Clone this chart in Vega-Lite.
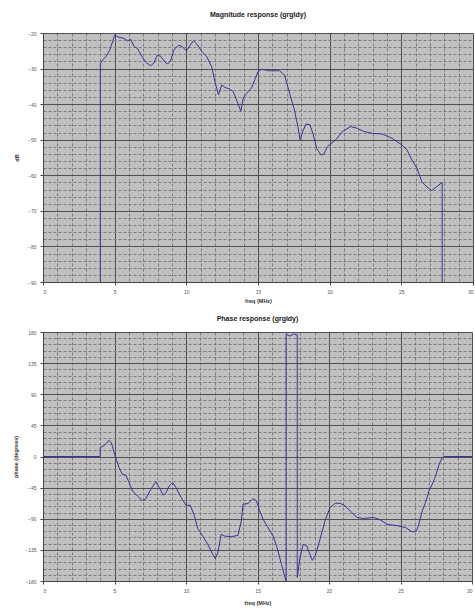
{
  "$schema": "https://vega.github.io/schema/vega-lite/v6.json",
  "padding": {"left": 13, "top": 11, "right": 2, "bottom": 1},
  "spacing": 11,
  "datasets": {
    "mag": [
      {"i": 0, "freq": 4, "value": -90},
      {"i": 1, "freq": 4, "value": -28.7},
      {"i": 2, "freq": 4.15, "value": -27.6},
      {"i": 3, "freq": 4.38, "value": -26.7},
      {"i": 4, "freq": 4.66, "value": -24.8},
      {"i": 5, "freq": 5.0, "value": -20.6},
      {"i": 6, "freq": 5.3, "value": -21.2},
      {"i": 7, "freq": 5.65, "value": -21.5},
      {"i": 8, "freq": 5.9, "value": -22.2},
      {"i": 9, "freq": 6.12, "value": -21.8},
      {"i": 10, "freq": 6.35, "value": -23.8},
      {"i": 11, "freq": 6.58, "value": -24.3},
      {"i": 12, "freq": 6.92, "value": -26.7},
      {"i": 13, "freq": 7.2, "value": -28.3},
      {"i": 14, "freq": 7.5, "value": -29.2},
      {"i": 15, "freq": 7.73, "value": -28.5},
      {"i": 16, "freq": 7.96, "value": -26.3},
      {"i": 17, "freq": 8.2, "value": -26.5},
      {"i": 18, "freq": 8.54, "value": -28.3},
      {"i": 19, "freq": 8.7, "value": -28.7},
      {"i": 20, "freq": 8.93, "value": -27.6},
      {"i": 21, "freq": 9.12, "value": -24.8},
      {"i": 22, "freq": 9.46, "value": -23.4},
      {"i": 23, "freq": 9.7, "value": -23.8},
      {"i": 24, "freq": 10.0, "value": -25.0},
      {"i": 25, "freq": 10.27, "value": -23.4},
      {"i": 26, "freq": 10.5, "value": -22.2},
      {"i": 27, "freq": 10.73, "value": -23.1},
      {"i": 28, "freq": 11.08, "value": -25.2},
      {"i": 29, "freq": 11.43, "value": -26.7},
      {"i": 30, "freq": 11.77, "value": -29.5},
      {"i": 31, "freq": 12.0, "value": -33.7},
      {"i": 32, "freq": 12.24, "value": -37.4},
      {"i": 33, "freq": 12.47, "value": -34.6},
      {"i": 34, "freq": 12.7, "value": -35.3},
      {"i": 35, "freq": 13.04, "value": -35.8},
      {"i": 36, "freq": 13.27, "value": -36.5},
      {"i": 37, "freq": 13.6, "value": -39.8},
      {"i": 38, "freq": 13.8, "value": -42.0},
      {"i": 39, "freq": 13.97, "value": -38.3},
      {"i": 40, "freq": 14.2, "value": -37.0},
      {"i": 41, "freq": 14.54, "value": -35.5},
      {"i": 42, "freq": 14.77, "value": -33.2},
      {"i": 43, "freq": 15.0, "value": -30.9},
      {"i": 44, "freq": 15.24, "value": -30.2},
      {"i": 45, "freq": 15.8, "value": -30.6},
      {"i": 46, "freq": 16.5, "value": -30.6},
      {"i": 47, "freq": 16.85, "value": -31.8},
      {"i": 48, "freq": 17.2, "value": -36.9},
      {"i": 49, "freq": 17.54, "value": -41.6},
      {"i": 50, "freq": 17.78, "value": -46.3},
      {"i": 51, "freq": 17.94, "value": -50.0},
      {"i": 52, "freq": 18.12, "value": -47.7},
      {"i": 53, "freq": 18.35, "value": -45.6},
      {"i": 54, "freq": 18.63, "value": -45.8},
      {"i": 55, "freq": 18.86, "value": -48.7},
      {"i": 56, "freq": 19.1, "value": -52.5},
      {"i": 57, "freq": 19.4, "value": -54.3},
      {"i": 58, "freq": 19.6, "value": -54.0},
      {"i": 59, "freq": 19.85, "value": -51.9},
      {"i": 60, "freq": 20.43, "value": -50.0},
      {"i": 61, "freq": 20.89, "value": -47.7},
      {"i": 62, "freq": 21.47, "value": -46.3},
      {"i": 63, "freq": 21.93, "value": -46.8},
      {"i": 64, "freq": 22.39, "value": -47.7},
      {"i": 65, "freq": 22.97, "value": -48.2},
      {"i": 66, "freq": 23.66, "value": -48.4},
      {"i": 67, "freq": 24.35, "value": -49.6},
      {"i": 68, "freq": 25.05, "value": -51.5},
      {"i": 69, "freq": 25.4, "value": -52.9},
      {"i": 70, "freq": 25.74, "value": -55.7},
      {"i": 71, "freq": 26.09, "value": -58.0},
      {"i": 72, "freq": 26.43, "value": -61.8},
      {"i": 73, "freq": 26.78, "value": -63.3},
      {"i": 74, "freq": 27.12, "value": -64.3},
      {"i": 75, "freq": 27.47, "value": -63.2},
      {"i": 76, "freq": 27.85, "value": -62.0},
      {"i": 77, "freq": 27.85, "value": -90}
    ],
    "phase": [
      {"i": 0, "freq": 0, "value": 0},
      {"i": 1, "freq": 4, "value": 0},
      {"i": 2, "freq": 4, "value": 13},
      {"i": 3, "freq": 4.2, "value": 15},
      {"i": 4, "freq": 4.38, "value": 17.8},
      {"i": 5, "freq": 4.62, "value": 23.6},
      {"i": 6, "freq": 4.78, "value": 20},
      {"i": 7, "freq": 4.97, "value": 6},
      {"i": 8, "freq": 5.08, "value": -1.5},
      {"i": 9, "freq": 5.32, "value": -16},
      {"i": 10, "freq": 5.55, "value": -25.6},
      {"i": 11, "freq": 5.79, "value": -27},
      {"i": 12, "freq": 6.02, "value": -37.6},
      {"i": 13, "freq": 6.26, "value": -49.7},
      {"i": 14, "freq": 6.6, "value": -57},
      {"i": 15, "freq": 6.96, "value": -64},
      {"i": 16, "freq": 7.19, "value": -60.8},
      {"i": 17, "freq": 7.54, "value": -47.3},
      {"i": 18, "freq": 7.89, "value": -36.7},
      {"i": 19, "freq": 8.13, "value": -44.9},
      {"i": 20, "freq": 8.41, "value": -56},
      {"i": 21, "freq": 8.6, "value": -52},
      {"i": 22, "freq": 8.83, "value": -42.5},
      {"i": 23, "freq": 9.07, "value": -37.6},
      {"i": 24, "freq": 9.3, "value": -45},
      {"i": 25, "freq": 9.65, "value": -59},
      {"i": 26, "freq": 10.0, "value": -70.5},
      {"i": 27, "freq": 10.3, "value": -70.5},
      {"i": 28, "freq": 10.59, "value": -86},
      {"i": 29, "freq": 10.82, "value": -104},
      {"i": 30, "freq": 11.17, "value": -115},
      {"i": 31, "freq": 11.52, "value": -127},
      {"i": 32, "freq": 11.87, "value": -141.5},
      {"i": 33, "freq": 12.04, "value": -147.6},
      {"i": 34, "freq": 12.23, "value": -139},
      {"i": 35, "freq": 12.46, "value": -112.4},
      {"i": 36, "freq": 12.7, "value": -115},
      {"i": 37, "freq": 13.17, "value": -116},
      {"i": 38, "freq": 13.63, "value": -114},
      {"i": 39, "freq": 13.87, "value": -93},
      {"i": 40, "freq": 13.99, "value": -69},
      {"i": 41, "freq": 14.34, "value": -68},
      {"i": 42, "freq": 14.69, "value": -60.8},
      {"i": 43, "freq": 14.92, "value": -64},
      {"i": 44, "freq": 15.16, "value": -78.7},
      {"i": 45, "freq": 15.39, "value": -90.7},
      {"i": 46, "freq": 15.74, "value": -102.8},
      {"i": 47, "freq": 16.09, "value": -115},
      {"i": 48, "freq": 16.33, "value": -129},
      {"i": 49, "freq": 16.68, "value": -156},
      {"i": 50, "freq": 16.96, "value": -177.6},
      {"i": 51, "freq": 17.0, "value": -180},
      {"i": 52, "freq": 17.0, "value": 177},
      {"i": 53, "freq": 17.25, "value": 174},
      {"i": 54, "freq": 17.5, "value": 177},
      {"i": 55, "freq": 17.78, "value": 176},
      {"i": 56, "freq": 17.78, "value": -175},
      {"i": 57, "freq": 17.95, "value": -148.6},
      {"i": 58, "freq": 18.19, "value": -127},
      {"i": 59, "freq": 18.43, "value": -129},
      {"i": 60, "freq": 18.66, "value": -141},
      {"i": 61, "freq": 18.83, "value": -150},
      {"i": 62, "freq": 19.02, "value": -144},
      {"i": 63, "freq": 19.37, "value": -120},
      {"i": 64, "freq": 19.72, "value": -93},
      {"i": 65, "freq": 20.07, "value": -74},
      {"i": 66, "freq": 20.43, "value": -67.6},
      {"i": 67, "freq": 20.78, "value": -67.6},
      {"i": 68, "freq": 21.13, "value": -71.5},
      {"i": 69, "freq": 21.48, "value": -78.7},
      {"i": 70, "freq": 21.95, "value": -88},
      {"i": 71, "freq": 22.42, "value": -89.7},
      {"i": 72, "freq": 23.12, "value": -88},
      {"i": 73, "freq": 23.59, "value": -91.7},
      {"i": 74, "freq": 24.06, "value": -98},
      {"i": 75, "freq": 24.76, "value": -100},
      {"i": 76, "freq": 25.35, "value": -102.7},
      {"i": 77, "freq": 25.82, "value": -109},
      {"i": 78, "freq": 26.12, "value": -107.6},
      {"i": 79, "freq": 26.28, "value": -98},
      {"i": 80, "freq": 26.52, "value": -78.7},
      {"i": 81, "freq": 26.75, "value": -66.6},
      {"i": 82, "freq": 26.99, "value": -49.8},
      {"i": 83, "freq": 27.22, "value": -40},
      {"i": 84, "freq": 27.46, "value": -28},
      {"i": 85, "freq": 27.7, "value": -11},
      {"i": 86, "freq": 27.93, "value": -1.5},
      {"i": 87, "freq": 28.05, "value": 0},
      {"i": 88, "freq": 30, "value": 0}
    ]
  },
  "vconcat": [
    {
      "title": {"text": "Magnitude response (grgldy)", "offset": 13},
      "width": 430,
      "height": 249,
      "data": {"name": "mag"},
      "mark": {"type": "line", "color": "#34349a", "strokeWidth": 1, "clip": true},
      "encoding": {
        "x": {
          "field": "freq", "type": "quantitative",
          "scale": {"domain": [0, 30], "nice": false},
          "axis": {
            "title": "freq (MHz)", "titlePadding": 4,
            "values": [0,1,2,3,4,5,6,7,8,9,10,11,12,13,14,15,16,17,18,19,20,21,22,23,24,25,26,27,28,29,30],
            "labelExpr": "datum.value % 5 === 0 ? datum.label : ''",
            "labelOverlap": false,
            "tickOpacity": {"condition": {"test": "datum.value % 5 === 0", "value": 1}, "value": 0},
            "gridColor": {"condition": {"test": "datum.value % 5 === 0", "value": "#505050"}, "value": "#7c7c7c"},
            "gridDash": {"condition": {"test": "datum.value % 5 === 0", "value": []}, "value": [3, 2]}
          }
        },
        "y": {
          "field": "value", "type": "quantitative",
          "scale": {"domain": [-90, -20], "nice": false},
          "axis": {
            "title": "dB", "titlePadding": 8,
            "values": [-90,-88,-86,-84,-82,-80,-78,-76,-74,-72,-70,-68,-66,-64,-62,-60,-58,-56,-54,-52,-50,-48,-46,-44,-42,-40,-38,-36,-34,-32,-30,-28,-26,-24,-22,-20],
            "labelExpr": "datum.value % 10 === 0 ? datum.label : ''",
            "labelOverlap": false,
            "tickOpacity": {"condition": {"test": "datum.value % 10 === 0", "value": 1}, "value": 0},
            "gridColor": {"condition": {"test": "datum.value % 10 === 0", "value": "#505050"}, "value": "#7c7c7c"},
            "gridDash": {"condition": {"test": "datum.value % 10 === 0", "value": []}, "value": [3, 2]}
          }
        },
        "order": {"field": "i", "type": "quantitative"}
      }
    },
    {
      "title": {"text": "Phase response (grgldy)", "offset": 8},
      "width": 429,
      "height": 249,
      "data": {"name": "phase"},
      "mark": {"type": "line", "color": "#34349a", "strokeWidth": 1, "clip": true},
      "encoding": {
        "x": {
          "field": "freq", "type": "quantitative",
          "scale": {"domain": [0, 30], "nice": false},
          "axis": {
            "title": "freq (MHz)", "titlePadding": 7,
            "values": [0,1,2,3,4,5,6,7,8,9,10,11,12,13,14,15,16,17,18,19,20,21,22,23,24,25,26,27,28,29,30],
            "labelExpr": "datum.value % 5 === 0 ? datum.label : ''",
            "labelOverlap": false,
            "tickOpacity": {"condition": {"test": "datum.value % 5 === 0", "value": 1}, "value": 0},
            "gridColor": {"condition": {"test": "datum.value % 5 === 0", "value": "#505050"}, "value": "#7c7c7c"},
            "gridDash": {"condition": {"test": "datum.value % 5 === 0", "value": []}, "value": [3, 2]}
          }
        },
        "y": {
          "field": "value", "type": "quantitative",
          "scale": {"domain": [-180, 180], "nice": false},
          "axis": {
            "title": "phase (degrees)", "titlePadding": 6,
            "values": [-180,-171,-162,-153,-144,-135,-126,-117,-108,-99,-90,-81,-72,-63,-54,-45,-36,-27,-18,-9,0,9,18,27,36,45,54,63,72,81,90,99,108,117,126,135,144,153,162,171,180],
            "labelExpr": "datum.value % 45 === 0 ? datum.label : ''",
            "labelOverlap": false,
            "tickOpacity": {"condition": {"test": "datum.value % 45 === 0", "value": 1}, "value": 0},
            "gridColor": {"condition": {"test": "datum.value % 45 === 0", "value": "#505050"}, "value": "#7c7c7c"},
            "gridDash": {"condition": {"test": "datum.value % 45 === 0", "value": []}, "value": [3, 2]}
          }
        },
        "order": {"field": "i", "type": "quantitative"}
      }
    }
  ],
  "config": {
    "view": {"fill": "#c0c0c0", "stroke": null},
    "axis": {
      "labelFont": "Liberation Sans", "labelFontSize": 5, "labelColor": "#555555",
      "titleFont": "Liberation Sans", "titleFontSize": 5.5, "titleFontWeight": "bold", "titleColor": "#333333",
      "domainColor": "#444444", "tickColor": "#444444", "tickSize": 3, "labelPadding": 4,
      "gridWidth": 1
    },
    "title": {"font": "Liberation Sans", "fontSize": 7, "fontWeight": "bold", "color": "#222222", "anchor": "middle"}
  }
}
